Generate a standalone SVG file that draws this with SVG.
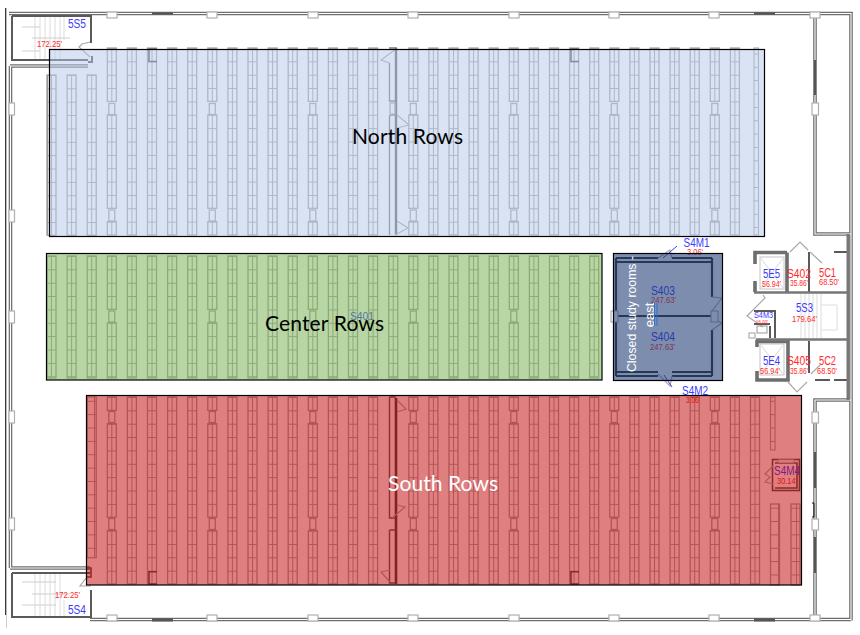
<svg xmlns="http://www.w3.org/2000/svg" xmlns:xlink="http://www.w3.org/1999/xlink" width="860" height="635" viewBox="0 0 860 635">
<style>
text{font-family:"Liberation Sans",Arial,sans-serif}
.b{fill:#3a3aff;font-size:12px}
.rr{fill:#ff2a2a;font-size:12px}
.r{fill:#ff2a2a;font-size:9px}
.lab{font-family:Lato,"Liberation Sans",sans-serif;font-size:21px}
.w{fill:none;stroke:#6e6e6e;stroke-width:3.6}
.wi{fill:none;stroke:#fff;stroke-width:1.1}
.t{fill:none;stroke:#5a5a5a;stroke-width:2}
.k{fill:none;stroke:#333;stroke-width:2.2}
.sw{fill:none;stroke:#aaa;stroke-width:1.2}
.win{fill:#fff;stroke:#b0b0b0;stroke-width:1.2}
.seg{fill:#555}
.lt{fill:none;stroke:#dcdcdc;stroke-width:1}
.s{fill:url(#sh);stroke:#a6a6a6;stroke-width:1.3}
.bx{fill:none;stroke:#a6a6a6;stroke-width:1.3}
.hw{fill:none;stroke:#555;stroke-width:1.6}
.tick{fill:none;stroke:#3a3aff;stroke-width:1}
.soft{filter:url(#soft)}
</style>
<defs>
<filter id="soft" x="-2%" y="-2%" width="104%" height="104%"><feGaussianBlur stdDeviation="0.4"/></filter>
<pattern id="sh" patternUnits="userSpaceOnUse" width="9" height="13.36">
<path d="M0 .5H9M4.5 0V13.36" stroke="#a6a6a6" stroke-width="1" fill="none"/>
</pattern>
<pattern id="shh" patternUnits="userSpaceOnUse" width="5" height="13.36">
<path d="M0 .5H5" stroke="#a6a6a6" stroke-width="1" fill="none"/>
</pattern>
<g id="nP"><rect class="s" width="9" height="187"/></g>
<g id="nS"><rect class="s" width="9" height="160.3"/></g>
<g id="nB"><rect class="s" width="9" height="53.4"/><rect class="bx" x="1.5" y="55.5" width="6" height="11"/><rect class="s" y="66.8" width="9" height="93.5"/><rect class="bx" x="1.5" y="162" width="6" height="11"/><rect class="s" y="173.6" width="9" height="13.4"/></g>
<g id="sB"><rect class="s" width="9" height="13.4"/><rect class="bx" x="1.5" y="14.5" width="6" height="11"/><rect class="s" y="26.7" width="9" height="93.5"/><rect class="bx" x="1.5" y="121.5" width="6" height="11"/><rect class="s" y="133.6" width="9" height="53.4"/></g>
<g id="cP"><rect class="s" width="9" height="122"/></g>
<g id="cB"><rect class="s" width="9" height="53.4"/><rect class="bx" x="1.5" y="55" width="6" height="11"/><rect class="s" y="66.8" width="9" height="55.2"/></g>
<path id="brk" d="M9 .8H1V13H9" class="hw"/>
</defs>
<rect width="860" height="635" fill="#fff"/>

<g id="shell" class="soft">
<path d="M5.7 8V615" stroke="#222" stroke-width="1.2" fill="none"/>
<path d="M6.5 615V628" stroke="#ccc" stroke-width="1" fill="none"/>
<path class="w" d="M9 13.500H851V620.500M815 15V234H851M815 620V400H851M10.500 66V568M10 66H88M10 568H90M90 619.500H851"/>
<path class="wi" d="M9 13.500H851V620.500M815 15V234H851M815 620V400H851M10.500 66V568M10 66H88M10 568H90M90 619.500H851"/>
<g fill="#fff" stroke="#b0b0b0" stroke-width="1.2">
<rect x="107" y="12" width="10" height="6"/><rect x="207" y="12" width="10" height="6"/><rect x="308" y="12" width="10" height="6"/><rect x="408" y="12" width="10" height="6"/><rect x="509" y="12" width="10" height="6"/><rect x="609" y="12" width="10" height="6"/><rect x="709" y="12" width="10" height="6"/><rect x="810" y="12" width="10" height="6"/>
<rect x="107" y="615" width="10" height="6"/><rect x="207" y="615" width="10" height="6"/><rect x="308" y="615" width="10" height="6"/><rect x="408" y="615" width="10" height="6"/><rect x="509" y="615" width="10" height="6"/><rect x="609" y="615" width="10" height="6"/><rect x="709" y="615" width="10" height="6"/><rect x="810" y="615" width="10" height="6"/>
<rect x="9" y="103" width="5.5" height="12"/><rect x="9" y="210" width="5.5" height="12"/><rect x="9" y="311" width="5.5" height="12"/><rect x="9" y="411" width="5.5" height="12"/><rect x="9" y="518" width="5.5" height="12"/>
<rect x="812" y="103" width="6.5" height="12"/><rect x="812" y="412" width="6.5" height="11"/><rect x="812" y="519" width="6.5" height="11"/>
</g>
<g class="seg">
<rect x="152" y="12.5" width="21" height="2"/><rect x="754" y="12.5" width="21" height="2"/><rect x="152" y="618.5" width="21" height="3"/><rect x="754" y="618.5" width="21" height="3"/>
<rect x="814" y="60" width="2" height="35"/><rect x="814" y="452" width="2" height="36"/><rect x="814" y="537" width="2" height="36"/>
</g>
<path d="M812 503H814V517H812" fill="none" stroke="#111" stroke-width="1"/>
</g>

<g id="stair-5S5">
<path class="lt" d="M35 16V60M40 16V60M45 16V60M50 16V60M55 16V60M60 16V60M64 16V40"/>
<path d="M22 27H40M22 51H40M32 38H70" stroke="#cfcfcf" stroke-width="1.2" fill="none"/>
<path class="t" d="M91 15V43M12 16H91M12 16V60H88M88 62H92V56"/>
<path class="sw" d="M90 42L82 44L79 47L90 57"/>
<text class="b" x="68" y="28" textLength="18" lengthAdjust="spacingAndGlyphs">5S5</text>
<text class="r" x="37" y="47" textLength="25" lengthAdjust="spacingAndGlyphs">172.25'</text>
</g>
<g id="stair-5S4">
<path class="lt" d="M35 573V617M40 573V617M45 573V617M50 573V617M55 573V617M60 573V617M64 600V617"/>
<path d="M22 582H56M22 605H56M32 594H70" stroke="#cfcfcf" stroke-width="1.2" fill="none"/>
<path class="t" d="M91 590V618M12 573H90M12 573V617H91"/>
<path class="sw" d="M91 586H80L87 577"/>
<text class="b" x="68" y="614" textLength="18" lengthAdjust="spacingAndGlyphs">5S4</text>
<text class="r" x="55" y="598" textLength="25" lengthAdjust="spacingAndGlyphs">172.25'</text>
</g>

<g id="north-shelves" class="soft">
<use href="#nS" x="47" y="75"/><use href="#nS" x="67.100" y="75"/><use href="#nS" x="87.200" y="75"/>
<use href="#nB" x="107.300" y="48"/><use href="#nP" x="127.400" y="48"/><use href="#nP" x="147.500" y="48"/><use href="#nP" x="167.600" y="48"/><use href="#nP" x="187.700" y="48"/>
<use href="#nB" x="207.800" y="48"/><use href="#nP" x="227.900" y="48"/><use href="#nP" x="248" y="48"/><use href="#nP" x="268.100" y="48"/><use href="#nP" x="288.200" y="48"/>
<use href="#nB" x="308.300" y="48"/><use href="#nP" x="328.400" y="48"/><use href="#nP" x="348.500" y="48"/><use href="#nP" x="368.600" y="48"/>
<use href="#nB" x="408.800" y="48"/><use href="#nP" x="428.900" y="48"/><use href="#nP" x="449" y="48"/><use href="#nP" x="469.100" y="48"/><use href="#nP" x="489.200" y="48"/>
<use href="#nB" x="509.300" y="48"/><use href="#nP" x="529.400" y="48"/><use href="#nP" x="549.500" y="48"/><use href="#nP" x="569.600" y="48"/><use href="#nP" x="589.700" y="48"/>
<use href="#nB" x="609.800" y="48"/><use href="#nP" x="629.900" y="48"/><use href="#nP" x="650" y="48"/><use href="#nP" x="670.100" y="48"/><use href="#nP" x="690.200" y="48"/>
<use href="#nB" x="710.300" y="48"/><use href="#nP" x="730.400" y="48"/>
<rect x="754" y="48" width="4.500" height="187" fill="url(#shh)" stroke="#a6a6a6" stroke-width="1.100"/>
<path d="M47.500 75V235" stroke="#9a9a9a" stroke-width="1.400" fill="none"/>
<use href="#brk" x="148" y="48.500"/><use href="#brk" x="570" y="48.500"/>
<path d="M396 48V235" stroke="#666" stroke-width="2.400" fill="none"/>
<path d="M389.500 63V101H395M389.500 235V116L392 115H395" stroke="#7c7c7c" stroke-width="1.300" fill="none"/>
<path d="M389 48H397" stroke="#777" stroke-width="1.500" fill="none"/>
<path class="sw" d="M396 49L381 60L389.500 63M397 115L409 125L397 128M397 221L408 228L395 235"/>
<rect class="bx" x="390" y="103" width="5" height="11"/>
</g>

<g id="center-shelves" class="soft">
<use href="#cP" x="47" y="256"/><use href="#cP" x="67.100" y="256"/><use href="#cP" x="87.200" y="256"/><use href="#cB" x="107.300" y="256"/><use href="#cP" x="127.400" y="256"/><use href="#cP" x="147.500" y="256"/><use href="#cP" x="167.600" y="256"/><use href="#cP" x="187.700" y="256"/>
<use href="#cB" x="207.800" y="256"/><use href="#cP" x="227.900" y="256"/><use href="#cP" x="248" y="256"/><use href="#cP" x="268.100" y="256"/><use href="#cP" x="288.200" y="256"/>
<use href="#cB" x="308.300" y="256"/><use href="#cP" x="328.400" y="256"/><use href="#cP" x="348.500" y="256"/><use href="#cP" x="368.600" y="256"/><use href="#cP" x="388.700" y="256"/>
<use href="#cB" x="408.800" y="256"/><use href="#cP" x="428.900" y="256"/><use href="#cP" x="449" y="256"/><use href="#cP" x="469.100" y="256"/><use href="#cP" x="489.200" y="256"/>
<use href="#cB" x="509.300" y="256"/><use href="#cP" x="529.400" y="256"/><use href="#cP" x="549.500" y="256"/><use href="#cP" x="569.600" y="256"/><use href="#cP" x="589.700" y="256"/>
</g>
<text id="label-S401" x="350" y="320" style="font-size:11.500px;fill:#3a3aff" textLength="24" lengthAdjust="spacingAndGlyphs">S401</text>

<g id="south-shelves" class="soft">
<rect class="s" x="87.200" y="397" width="9" height="160.700"/>
<use href="#sB" x="107.300" y="397"/><use href="#nP" x="127.400" y="397"/><use href="#nP" x="147.500" y="397"/><use href="#nP" x="167.600" y="397"/><use href="#nP" x="187.700" y="397"/>
<use href="#sB" x="207.800" y="397"/><use href="#nP" x="227.900" y="397"/><use href="#nP" x="248" y="397"/><use href="#nP" x="268.100" y="397"/><use href="#nP" x="288.200" y="397"/>
<use href="#sB" x="308.300" y="397"/><use href="#nP" x="328.400" y="397"/><use href="#nP" x="348.500" y="397"/><use href="#nP" x="368.600" y="397"/>
<use href="#sB" x="408.800" y="397"/><use href="#nP" x="428.900" y="397"/><use href="#nP" x="449" y="397"/><use href="#nP" x="469.100" y="397"/><use href="#nP" x="489.200" y="397"/>
<use href="#sB" x="509.300" y="397"/><use href="#nP" x="529.400" y="397"/><use href="#nP" x="549.500" y="397"/><use href="#nP" x="569.600" y="397"/><use href="#nP" x="589.700" y="397"/>
<use href="#sB" x="609.800" y="397"/><use href="#nP" x="629.900" y="397"/><use href="#nP" x="650" y="397"/><use href="#nP" x="670.100" y="397"/><use href="#nP" x="690.200" y="397"/>
<use href="#sB" x="710.300" y="397"/><use href="#nP" x="730.400" y="397"/><use href="#nP" x="750.500" y="397"/>
<rect x="770.500" y="397" width="4.500" height="53" fill="url(#shh)" stroke="#a6a6a6" stroke-width="1.100"/>
<rect class="s" x="770.500" y="504" width="9" height="81"/><rect class="s" x="791" y="504" width="9" height="81"/>
<use href="#brk" x="148" y="571"/><use href="#brk" x="570" y="571"/>
<path d="M396 398V584" stroke="#444" stroke-width="2.600" fill="none"/>
<path d="M389.500 397H396M389.500 397V518H396M389.500 530V583H396M389.500 530H396" stroke="#5a5a5a" stroke-width="1.400" fill="none"/>
<path class="sw" d="M397 400L406 409L397 412M397 505L405 507L392 518M390 570L381 572L390 582"/>
<path d="M87 568H91V577H87" class="hw"/>
</g>

<g id="room-S4M4">
<g class="soft">
<rect x="772.500" y="459.500" width="27" height="31" class="hw"/>
<path class="hw" d="M775 463H797V488H775"/>
<rect x="778" y="459.500" width="16" height="3.500" fill="#f0f0f0" stroke="#999" stroke-width=".8"/>
<path class="sw" d="M773 466L765 474L770 477L765 482L773 484"/>
</g>
<text class="b" x="774" y="475" textLength="26" lengthAdjust="spacingAndGlyphs">S4M4</text>
<text class="r" x="777" y="483.500" textLength="20" lengthAdjust="spacingAndGlyphs">30.14'</text>
</g>

<g id="study-rooms">
<g class="soft">
<path class="k" d="M616 258H658M672 258H712M616 262H712M616 258V376M616 316H712M712 258V297M712 330V376M616 372H658M672 372H712M616 376H658M672 376H712"/>
<path class="sw" d="M658 258L670 250L672 258M712 297L722 298L712 311M712 330L722 323L712 318M658 374L670 386L672 376"/>
<rect class="win" x="611" y="311" width="7" height="11"/><rect class="win" x="711" y="311" width="7" height="11"/>
<path class="tick" d="M663 258L677 246M664 375L672 387"/>
</g>
<text class="b" x="651" y="295" textLength="24" lengthAdjust="spacingAndGlyphs">S403</text><text class="r" x="651" y="302.500" textLength="25" lengthAdjust="spacingAndGlyphs">247.63'</text>
<text class="b" x="651" y="341" textLength="24" lengthAdjust="spacingAndGlyphs">S404</text><text class="r" x="650" y="349.500" textLength="25" lengthAdjust="spacingAndGlyphs">247.63'</text>
<text class="b" x="683.500" y="247" textLength="26" lengthAdjust="spacingAndGlyphs">S4M1</text><text class="r" x="687" y="254.500" textLength="16" lengthAdjust="spacingAndGlyphs">3.06'</text>
<text class="b" x="682" y="395" textLength="26" lengthAdjust="spacingAndGlyphs">S4M2</text><text class="r" x="686" y="403" textLength="14" lengthAdjust="spacingAndGlyphs">3.06'</text>
</g>

<g id="core">
<g class="soft">
<rect x="760" y="257" width="24" height="32" fill="none" stroke="#c4c4c4" stroke-width="1"/><path d="M760 257L784 289M784 257L760 289" stroke="#d6d6d6" stroke-width="1" fill="none"/>
<rect x="760" y="344" width="24" height="31" fill="none" stroke="#c4c4c4" stroke-width="1"/><path d="M760 344L784 375M784 344L760 375" stroke="#d6d6d6" stroke-width="1" fill="none"/>
<path class="lt" d="M801 294V338M805 294V338M809 294V338M813 294V338M817 294V338M821 294V338M821 305H837V330H821"/>
<path class="w" d="M755 264V252.500H787M787 252.500V292M755 281V292M757 347V341.500H788V380H757V371" stroke-width="3"/>
<path class="t" d="M809 252V292M834 252H848M809 341V373M834 380H848M815 380H830"/>
<path d="M848 234V400" stroke="#777" stroke-width="3" fill="none"/>
<path d="M754 292.500H848M756 339.500H848" stroke="#777" stroke-width="2.400" fill="none"/>
<path class="sw" d="M790 252L800 242L808 250M810 252L822 263M763 295L765 298L747 316L763 327M788 382L797 392L807 382M811 374L820 365"/>
<path class="t" d="M754 311H775V338M770 326V338M754 324H770"/>
<rect x="757" y="326" width="10" height="7" fill="none" stroke="#999" stroke-width="1"/>
<rect class="win" x="749" y="333" width="6" height="5"/>
</g>
<text class="b" x="763" y="278" textLength="17" lengthAdjust="spacingAndGlyphs">5E5</text><text class="r" x="762" y="286.500" textLength="19" lengthAdjust="spacingAndGlyphs">56.94'</text>
<text class="rr" x="787" y="277.500" textLength="24" lengthAdjust="spacingAndGlyphs">S402</text><text class="r" x="790" y="285.500" textLength="18" lengthAdjust="spacingAndGlyphs">35.86'</text>
<text class="rr" x="819" y="277" textLength="17" lengthAdjust="spacingAndGlyphs">5C1</text><text class="r" x="819" y="284.500" textLength="20" lengthAdjust="spacingAndGlyphs">68.50'</text>
<text class="b" x="796" y="312" textLength="17" lengthAdjust="spacingAndGlyphs">5S3</text><text class="r" x="792" y="322" textLength="25" lengthAdjust="spacingAndGlyphs">179.64'</text>
<text x="754" y="318" style="font-size:8.500px;fill:#3a3aff" textLength="19" lengthAdjust="spacingAndGlyphs">S4M3</text><text x="756" y="323.500" style="font-size:5.500px;fill:#ff2a2a" textLength="12" lengthAdjust="spacingAndGlyphs">16.00'</text>
<text class="b" x="763" y="365" textLength="17" lengthAdjust="spacingAndGlyphs">5E4</text><text class="r" x="760" y="374" textLength="20" lengthAdjust="spacingAndGlyphs">56.94'</text>
<text class="rr" x="787" y="365" textLength="24" lengthAdjust="spacingAndGlyphs">S405</text><text class="r" x="790" y="373.500" textLength="18" lengthAdjust="spacingAndGlyphs">35.86'</text>
<text class="rr" x="819" y="365" textLength="17" lengthAdjust="spacingAndGlyphs">5C2</text><text class="r" x="817" y="373.500" textLength="20" lengthAdjust="spacingAndGlyphs">68.50'</text>
</g>

<g id="zones">
<rect id="zone-north" x="49.500" y="49.500" width="715" height="187" fill="#b4c7e7" fill-opacity=".5" stroke="#000" stroke-width="1.200"/>
<rect id="zone-center" x="46.500" y="253.500" width="555.500" height="126.500" fill="#70ad47" fill-opacity=".5" stroke="#000" stroke-width="1.200"/>
<rect id="zone-south" x="86.500" y="395.500" width="715" height="189.500" fill="#c00000" fill-opacity=".5" stroke="#000" stroke-width="1.200"/>
<rect id="zone-study" x="613.500" y="253.500" width="109" height="127" fill="#1f3a73" fill-opacity=".58" stroke="#000" stroke-width="1.200"/>
</g>

<g id="labels">
<text class="lab" x="352" y="144" textLength="111" fill="#000">North Rows</text>
<text class="lab" x="265" y="331" textLength="119" fill="#000">Center Rows</text>
<text class="lab" x="388" y="491" textLength="110" fill="#fff">South Rows</text>
<g fill="#fff" style="font-family:Lato,'Liberation Sans',sans-serif;font-size:13px" text-anchor="middle">
<text transform="translate(636 314) rotate(-90)" textLength="116" lengthAdjust="spacingAndGlyphs">Closed study rooms -</text>
<text transform="translate(654 315) rotate(-90)">east</text>
</g>
<path d="M654.500 303V326M657 303V326" stroke="#2f6fd8" stroke-width="1" fill="none"/>
</g>
</svg>
